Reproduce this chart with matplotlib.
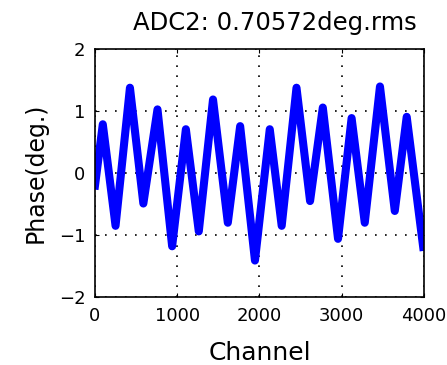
import matplotlib
matplotlib.use('Agg')
import matplotlib.pyplot as plt

# Peaks and troughs (line centre)
channel = [0, 95, 250, 425, 588, 760, 938, 1105, 1262, 1435, 1615, 1765,
           1945, 2125, 2270, 2450, 2615, 2770, 2955, 3120, 3280, 3465,
           3645, 3790, 3990]
phase = [-0.2, 0.79, -0.85, 1.38, -0.49, 1.03, -1.18, 0.71, -0.94, 1.19,
         -0.8, 0.76, -1.41, 0.71, -0.85, 1.38, -0.45, 1.06, -1.06, 0.89,
         -0.8, 1.4, -0.61, 0.91, -1.19]

title = 'ADC2: 0.70572deg.rms'
xticks = [0, 1000, 2000, 3000, 4000]
yticks = [-2, -1, 0, 1, 2]

plt.rcParams['font.family'] = ['DejaVu Sans']

fig = plt.figure(figsize=(4.47, 3.65), dpi=100)
ax = fig.add_axes([0.2125, 0.186, 0.736, 0.679])
ax.plot(channel, phase, color='#0000ff', linewidth=5.8, solid_joinstyle='round')
ax.set_xlim(0, 4000)
ax.set_ylim(-2, 2)
ax.set_xticks(xticks)
ax.set_yticks(yticks)
ax.grid(True, color='black', linestyle=(0, (1, 5)), linewidth=1.2)
ax.tick_params(direction='in', length=3, labelsize=13, pad=7, top=True, right=True)
for s in ax.spines.values():
    s.set_linewidth(1.2)
ax.set_xlabel('Channel', fontsize=18, labelpad=12)
ax.set_ylabel('Phase(deg.)', fontsize=17, labelpad=8)
ax.set_title(title, fontsize=17.5, x=0.547, pad=14)

fig.savefig('out.png', dpi=100)
